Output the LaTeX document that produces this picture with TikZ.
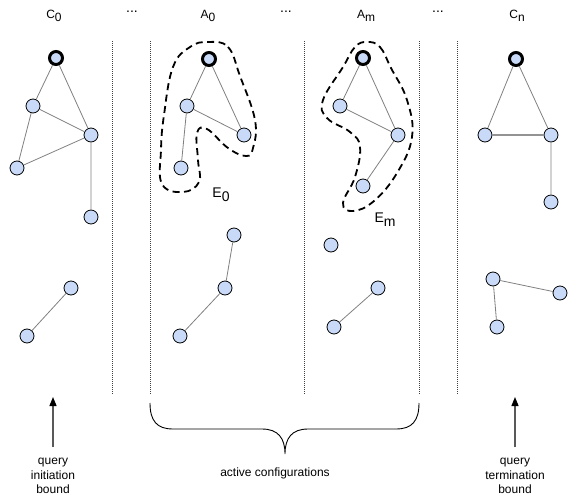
\documentclass[tikz,border=0pt]{standalone}
\usepackage{fontspec}
\setmainfont{Liberation Sans}
\usetikzlibrary{arrows.meta}
\definecolor{nodefill}{HTML}{C9DAF8}
\newcommand\sublab[3]{{\fontsize{#1}{#1}\selectfont #2\raisebox{-0.32em}{#3}}}
\tikzset{
  vtx/.style={circle, draw=black, fill=nodefill, line width=0.8pt, minimum size=14pt, inner sep=0pt},
  rootvtx/.style={vtx, line width=3pt, minimum size=13pt},
  edge/.style={draw=gray, line width=0.8pt},
  sepline/.style={draw=black!75, line width=0.8pt, dash pattern=on 1pt off 1pt},
  blob/.style={draw=black, line width=1.8pt, dash pattern=on 7pt off 4.5pt},
  uparrow/.style={draw=black!65, line width=1.3pt, -{Triangle[length=9pt,width=7pt,color=black]}},
  brace/.style={draw=black, line width=0.9pt},
  txt/.style={font=\fontsize{12}{14.5}\selectfont, align=center, inner sep=0pt},
  dots/.style={font=\fontsize{14}{14}\selectfont, inner sep=0pt},
  head/.style={inner sep=0pt, anchor=base},
}
\begin{document}
\begin{tikzpicture}[x=1pt,y=-1pt]
\useasboundingbox (0,0) rectangle (568,498);

% column headers
\node[head] (hc0) at (54,18) {\sublab{12}{C}{0}};
\node[dots] (d1) at (132,12) {...};
\node[head] (ha0) at (208,18) {\sublab{12}{A}{0}};
\node[dots] (d2) at (286,12) {...};
\node[head] (ham) at (366,18) {\sublab{12}{A}{m}};
\node[dots] (d3) at (438,12) {...};
\node[head] (hcn) at (517,18) {\sublab{12}{C}{n}};

% separators
\foreach \x/\n in {112/s1,150/s2,304/s3,419/s4,457/s5} {
  \coordinate (\n t) at (\x,41);
  \coordinate (\n b) at (\x,395);
  \draw[sepline] (\n t) -- (\n b);
}

% blobs
\draw[blob] plot[smooth cycle, tension=0.7] coordinates {
  (208,42) (228,47) (240,76) (255,120) (253,148) (246,156) (228,148) (207,129)
  (197,133) (198,160) (199,182) (183,192) (162,184) (161,150) (164,115) (173,67) (190,47)};
\draw[blob] plot[smooth cycle, tension=0.7] coordinates {
  (367,42) (380,47) (391,68) (407,100) (412,137) (397,173) (374,201) (353,211)
  (343,203) (355,177) (360,147) (350,132) (327,118) (323,100) (343,67) (355,47)};

% C0
\node[rootvtx] (c0r) at (56,58) {};
\node[vtx] (c01) at (33,106) {};
\node[vtx] (c02) at (91,135) {};
\node[vtx] (c03) at (17,168) {};
\node[vtx] (c04) at (91,217) {};
\node[vtx] (c05) at (71,288) {};
\node[vtx] (c06) at (27,336) {};
\draw[edge] (c0r) -- (c01) (c0r) -- (c02) (c01) -- (c02) (c01) -- (c03)
  (c03) -- (c02) (c02) -- (c04) (c05) -- (c06);

% A0
\node[rootvtx] (a0r) at (209,59) {};
\node[vtx] (a01) at (187,106) {};
\node[vtx] (a02) at (244,135) {};
\node[vtx] (a03) at (181,168) {};
\node[vtx] (a04) at (234,235) {};
\node[vtx] (a05) at (225,288) {};
\node[vtx] (a06) at (180,336) {};
\draw[edge] (a0r) -- (a01) (a0r) -- (a02) (a01) -- (a02) (a01) -- (a03)
  (a04) -- (a05) (a05) -- (a06);

% Am
\node[rootvtx] (amr) at (363,58) {};
\node[vtx] (am1) at (340,106) {};
\node[vtx] (am2) at (398,135) {};
\node[vtx] (am3) at (363,186) {};
\node[vtx] (am4) at (331,245) {};
\node[vtx] (am5) at (378,288) {};
\node[vtx] (am6) at (334,327) {};
\draw[edge] (amr) -- (am1) (amr) -- (am2) (am1) -- (am2) (am2) -- (am3)
  (am5) -- (am6);

% Cn
\node[rootvtx] (cnr) at (516,59) {};
\node[vtx] (cn1) at (485,135) {};
\node[vtx] (cn2) at (551,135) {};
\node[vtx] (cn3) at (551,202) {};
\node[vtx] (cn4) at (493,279) {};
\node[vtx] (cn5) at (560,293) {};
\node[vtx] (cn6) at (497,327) {};
\draw[edge] (cnr) -- (cn1) (cnr) -- (cn2) (cn2) -- (cn3)
  (cn4) -- (cn5) (cn4) -- (cn6);
\draw[edge, line width=1.2pt, draw=gray!85] (cn1) -- (cn2);

% set labels
\node[head] (e0) at (221,197) {\sublab{14}{E}{0}};
\node[head] (em) at (385,222) {\sublab{14}{E}{m}};

% brace
\coordinate (bl) at (150,403);
\coordinate (br) at (419,403);
\coordinate (btip) at (285,454);
\draw[brace] (bl) .. controls (150,421) and (157,429) .. (173,429)
  -- (262,429) .. controls (278,429) and (285,438) .. (btip)
  .. controls (285,438) and (292,429) .. (308,429)
  -- (396,429) .. controls (412,429) and (419,421) .. (br);
\node[txt] (act) at (275,473) {active configurations};

% arrows
\node[txt] (qi) at (53,476) {query\\initiation\\bound};
\node[txt] (qt) at (515,476) {query\\termination\\bound};
\coordinate (qitop) at (53,397);
\coordinate (qttop) at (515,397);
\draw[uparrow] (qi.north |- 0,447) -- (qitop);
\draw[uparrow] (qt.north |- 0,447) -- (qttop);
\end{tikzpicture}
\end{document}
